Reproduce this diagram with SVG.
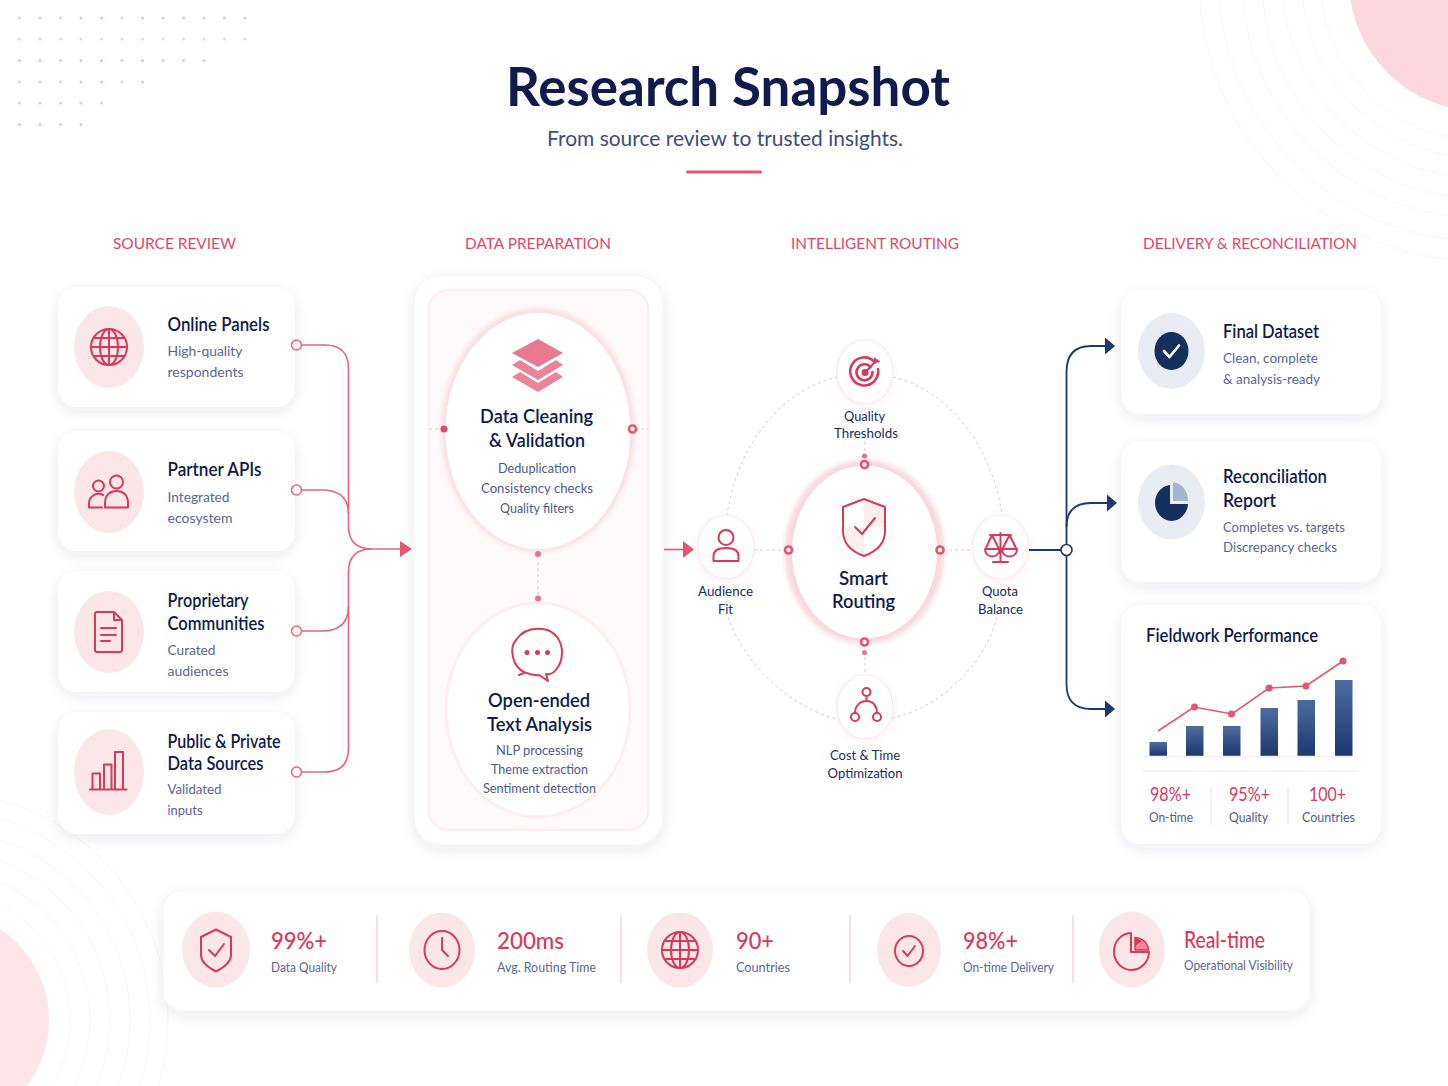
<svg xmlns="http://www.w3.org/2000/svg" width="1448" height="1086" viewBox="0 0 1448 1086">
<defs>
<style>
text{font-family:"Lato","Inter","Liberation Sans",sans-serif}
.h{font-size:14.500px;fill:#e0486a;text-anchor:middle;font-weight:400}
.t{font-size:18.500px;fill:#0f1b4c;font-weight:600}
.tm{font-size:19.500px;fill:#0f1b4c;font-weight:600;text-anchor:middle}
.s{font-size:14px;fill:#5a6690}
.sm{font-size:14px;fill:#4f5b87;text-anchor:middle}
.n{font-size:14px;fill:#1c2a5c;text-anchor:middle}
.v{font-size:23.500px;fill:#d8395c;font-weight:500}
.vs{font-size:18.500px;fill:#d8395c;text-anchor:middle}
.card{fill:#fff;filter:url(#sh)}
.tint{fill:#fbe6e8}
.ntint{fill:#e9ecf3}
.ic{fill:none;stroke:#d93a58;stroke-width:2;stroke-linecap:round;stroke-linejoin:round}
.pk{fill:none;stroke:#e5667f;stroke-width:1.6}
.nv{fill:none;stroke:#1b3a6f;stroke-width:1.8}
.dash{fill:none;stroke:#cfcfd4;stroke-width:1;stroke-dasharray:3 3}
.ring{fill:#fff;stroke:#e5566f;stroke-width:2.6}
.port{fill:#fff;stroke:#e5667f;stroke-width:1.5}
.orb{fill:#fff;stroke:#fbe8ea;stroke-width:1.2;filter:url(#sh2)}
.sep{stroke:#f6d5da;stroke-width:1.5}
.bar{fill:url(#bar)}
.dots{fill:none;stroke:#f1a3b5;stroke-width:3.200;stroke-linecap:round;stroke-dasharray:0 20.500;opacity:.65}
.arc{fill:none;stroke:#fef6f6;stroke-width:1.200}
</style>
<filter id="sh" x="-15%" y="-15%" width="130%" height="135%"><feDropShadow dx="0" dy="4" stdDeviation="7" flood-color="#3a3f5c" flood-opacity=".09"/></filter>
<filter id="sh2" x="-20%" y="-20%" width="140%" height="140%"><feDropShadow dx="0" dy="1" stdDeviation="3" flood-color="#e5566f" flood-opacity=".10"/></filter>
<filter id="bl" x="-20%" y="-20%" width="140%" height="140%"><feGaussianBlur stdDeviation="2.500"/></filter>
<filter id="bl2" x="-20%" y="-20%" width="140%" height="140%"><feGaussianBlur stdDeviation="2"/></filter>
<linearGradient id="bar" x1="0" y1="0" x2="0" y2="1"><stop offset="0" stop-color="#4d6c9e"/><stop offset="1" stop-color="#1b386f"/></linearGradient>
<g id="globe" class="ic"><circle r="18"/><ellipse rx="9" ry="18"/><path d="M0-18V18M-18 0H18M-15.500-9H15.500M-15.500 9H15.500"/></g>
</defs>
<rect width="1448" height="1086" fill="#fff"/>
<g id="background">
<circle class="arc" cx="1480" cy="-20" r="160"/><circle class="arc" cx="1480" cy="-20" r="178"/><circle class="arc" cx="1480" cy="-20" r="198"/><circle class="arc" cx="1480" cy="-20" r="218"/><circle class="arc" cx="1480" cy="-20" r="238"/><circle class="arc" cx="1480" cy="-20" r="261"/><circle class="arc" cx="1480" cy="-20" r="281"/>
<circle cx="1480" cy="-20" r="131" fill="#fbd8de"/>
<circle class="arc" cx="-60" cy="1020" r="130"/><circle class="arc" cx="-60" cy="1020" r="150"/><circle class="arc" cx="-60" cy="1020" r="170"/><circle class="arc" cx="-60" cy="1020" r="190"/><circle class="arc" cx="-60" cy="1020" r="210"/><circle class="arc" cx="-60" cy="1020" r="228"/>
<circle cx="-60" cy="1020" r="109" fill="#fde5e8"/>
<path class="dots" d="M19.500 18H250"/><path class="dots" d="M19.500 39H250" style="opacity:.5"/><path class="dots" d="M19.500 60.500H206"/><path class="dots" d="M19.500 82H145"/><path class="dots" d="M19.500 103H103"/><path class="dots" d="M19.500 124.500H82"/>
</g>
<g id="header">
<text x="728" y="106" text-anchor="middle" font-size="53" font-weight="700" fill="#0f1b4c" textLength="444" lengthAdjust="spacingAndGlyphs">Research Snapshot</text>
<text x="725" y="146" text-anchor="middle" font-size="22" fill="#3f4d78" textLength="356" lengthAdjust="spacingAndGlyphs">From source review to trusted insights.</text>
<rect x="686" y="170.500" width="76" height="3" rx="1.500" fill="#e5566f"/>
<text class="h" x="174.500" y="249" textLength="123" lengthAdjust="spacingAndGlyphs">SOURCE REVIEW</text>
<text class="h" x="538" y="249" textLength="146" lengthAdjust="spacingAndGlyphs">DATA PREPARATION</text>
<text class="h" x="875" y="249" textLength="168" lengthAdjust="spacingAndGlyphs">INTELLIGENT ROUTING</text>
<text class="h" x="1250" y="249" textLength="214" lengthAdjust="spacingAndGlyphs">DELIVERY &amp; RECONCILIATION</text>
</g>
<g id="source-online-panels">
<rect class="card" x="58" y="287" width="237" height="120" rx="20"/>
<ellipse class="tint" cx="109" cy="347" rx="35" ry="41"/>
<use href="#globe" x="109" y="347"/>
<text class="t" x="167.500" y="331" textLength="102" lengthAdjust="spacingAndGlyphs">Online Panels</text>
<text class="s" x="167.500" y="356" textLength="75" lengthAdjust="spacingAndGlyphs">High-quality</text>
<text class="s" x="167.500" y="377" textLength="76" lengthAdjust="spacingAndGlyphs">respondents</text>
</g>
<g id="source-partner-apis">
<rect class="card" x="58" y="431" width="237" height="120" rx="20"/>
<ellipse class="tint" cx="109" cy="492" rx="35" ry="41"/>
<g class="ic"><circle cx="98.500" cy="486" r="5.500"/><circle cx="116.500" cy="482" r="6.500"/><path d="M89 507.500V503a9.500 9.500 0 0 1 14-8M89 507.500H102M105 507.500V503C105 495 110 491 116.500 491S128 495 128 503V507.500Z"/></g>
<text class="t" x="167.500" y="476" textLength="94" lengthAdjust="spacingAndGlyphs">Partner APIs</text>
<text class="s" x="167.500" y="502" textLength="62" lengthAdjust="spacingAndGlyphs">Integrated</text>
<text class="s" x="167.500" y="523" textLength="65" lengthAdjust="spacingAndGlyphs">ecosystem</text>
</g>
<g id="source-proprietary-communities">
<rect class="card" x="58" y="571" width="237" height="121" rx="20"/>
<ellipse class="tint" cx="109" cy="632" rx="35" ry="41"/>
<g class="ic"><path d="M97 612H114L122 620V650Q122 652 120 652H97Q95 652 95 650V614Q95 612 97 612ZM114 612V620H122M101 628H116M101 635H116M101 641H110"/></g>
<text class="t" x="167.500" y="607" textLength="81" lengthAdjust="spacingAndGlyphs">Proprietary</text>
<text class="t" x="167.500" y="630" textLength="97" lengthAdjust="spacingAndGlyphs">Communities</text>
<text class="s" x="167.500" y="655" textLength="48" lengthAdjust="spacingAndGlyphs">Curated</text>
<text class="s" x="167.500" y="676" textLength="61" lengthAdjust="spacingAndGlyphs">audiences</text>
</g>
<g id="source-public-private">
<rect class="card" x="58" y="712" width="237" height="122" rx="20"/>
<ellipse class="tint" cx="109" cy="772" rx="35" ry="43"/>
<g class="ic"><path d="M90 789.500H126.500M92.500 789V773.500H100V789M104 789V764.500H111.500V789M115 789V752H123V789"/></g>
<text class="t" x="167.500" y="748" textLength="113" lengthAdjust="spacingAndGlyphs">Public &amp; Private</text>
<text class="t" x="167.500" y="770" textLength="96" lengthAdjust="spacingAndGlyphs">Data Sources</text>
<text class="s" x="167.500" y="794" textLength="54" lengthAdjust="spacingAndGlyphs">Validated</text>
<text class="s" x="167.500" y="815" textLength="35" lengthAdjust="spacingAndGlyphs">inputs</text>
</g>
<g id="data-prep-panel">
<rect x="414" y="275" width="249" height="570" rx="28" fill="#fff" stroke="#fbf0f2" filter="url(#sh)"/>
<rect x="428.500" y="290" width="220" height="540" rx="20" fill="#fef9fa" stroke="#fdeef0" stroke-width="2.500"/>
</g>
<g id="data-cleaning">
<ellipse cx="538" cy="430" rx="97" ry="122" fill="#fadfe3" filter="url(#bl2)"/>
<ellipse cx="538" cy="431" rx="92.500" ry="118" fill="#fff"/>
<path d="M512 353L538 339L563 353L538 367Z" fill="#e8798f"/>
<path d="M512 365L520 360L538 371L556 360L563 365L538 380Z" fill="#ea8499"/>
<path d="M512 377L520 372L538 383L556 372L563 377L538 392Z" fill="#ea8499"/>
<text class="tm" x="536.500" y="423" textLength="113" lengthAdjust="spacingAndGlyphs">Data Cleaning</text>
<text class="tm" x="537" y="447" textLength="96" lengthAdjust="spacingAndGlyphs">&amp; Validation</text>
<text class="sm" x="537" y="473" textLength="78" lengthAdjust="spacingAndGlyphs">Deduplication</text>
<text class="sm" x="537" y="493" textLength="112" lengthAdjust="spacingAndGlyphs">Consistency checks</text>
<text class="sm" x="537" y="513" textLength="74" lengthAdjust="spacingAndGlyphs">Quality filters</text>
</g>
<g id="text-analysis">
<ellipse cx="538" cy="710" rx="92" ry="107" fill="#fff" stroke="#fdeef0" stroke-width="3"/>
<g class="ic"><path d="M525 672.500C512 667 509 648 516 640C523 629 535 628 543 629C556 631 562 642 562 652C562 666 553 676 546 674L548 681L539 675C534 676 529 674 525 672.500L519 675Z"/></g>
<circle cx="527" cy="652.500" r="2.500" fill="#d93a58"/><circle cx="537.500" cy="652.500" r="2.500" fill="#d93a58"/><circle cx="547.500" cy="652.500" r="2.500" fill="#d93a58"/>
<text class="tm" x="539" y="707" textLength="102" lengthAdjust="spacingAndGlyphs">Open-ended</text>
<text class="tm" x="539.500" y="731" textLength="105" lengthAdjust="spacingAndGlyphs">Text Analysis</text>
<text class="sm" x="539.500" y="755" textLength="87" lengthAdjust="spacingAndGlyphs">NLP processing</text>
<text class="sm" x="539.500" y="774" textLength="97" lengthAdjust="spacingAndGlyphs">Theme extraction</text>
<text class="sm" x="539.500" y="793" textLength="113" lengthAdjust="spacingAndGlyphs">Sentiment detection</text>
</g>
<g id="connectors">
<path class="pk" d="M302 345H325Q348.500 345 348.500 369V526Q348.500 549 372 549H402"/>
<path class="pk" d="M302 490H322Q348.500 490 348.500 514"/>
<path class="pk" d="M302 631H322Q348.500 631 348.500 606"/>
<path class="pk" d="M302 772H325Q348.500 772 348.500 748V572Q348.500 549 372 549"/>
<path d="M400 541L412 549L400 557Z" fill="#e5566f"/>
<circle class="port" cx="296.500" cy="345" r="5"/><circle class="port" cx="296.500" cy="490" r="5"/><circle class="port" cx="296.500" cy="631" r="5"/><circle class="port" cx="296.500" cy="772" r="5"/>
<path class="dash" d="M429 429H442M635 429H648M538 556V596"/>
<circle cx="444" cy="429" r="3.500" fill="#de4a69"/><circle class="ring" cx="632.500" cy="429" r="3.500"/>
<circle cx="538" cy="554" r="3" fill="#e8708a"/><circle cx="538" cy="598.500" r="3" fill="#e8708a"/>
<path d="M664 549.500H684" stroke="#e5566f" stroke-width="1.600" fill="none"/><path d="M683 541L694 549.500L683 558Z" fill="#e5566f"/>
<path class="dash" d="M838 377A137 172 0 0 0 727 515M893 377A137 172 0 0 1 1002 515M728 617C745 665 790 708 840 720M997 617C985 665 940 708 892 718M754 550H786M943 550H972M865 442V458M865 651V676"/>
<path class="nv" d="M1029 550H1062"/>
<path class="nv" d="M1105 346H1091Q1066.500 346 1066.500 372V684Q1066.500 709 1091 709H1106"/>
<path class="nv" d="M1107 503H1091Q1066.500 503 1066.500 527"/>
<path d="M1105 337.500L1115 346L1105 354.500Z" fill="#1b3a6f"/><path d="M1107 494.500L1117 503L1107 511.500Z" fill="#1b3a6f"/><path d="M1105 700.500L1115 709L1105 717.500Z" fill="#1b3a6f"/>
<circle cx="1066.500" cy="550" r="5.500" fill="#fff" stroke="#1b3a6f" stroke-width="1.600"/>
</g>
<g id="smart-routing">
<ellipse cx="864.500" cy="552" rx="80" ry="92" fill="#f9d8dd" filter="url(#bl)"/>
<ellipse cx="864.500" cy="552" rx="72.500" ry="86.500" fill="#fff"/>
<path d="M864 501V527H884V507ZM864 527V554C853 550 845 542 845 531V527Z" fill="#fdeef0"/>
<path class="ic" d="M864 499L885 507V531C885 544 875 552 864 556C853 552 843 544 843 531V507Z"/>
<path class="ic" d="M855 527L862 534L875 518"/>
<text class="tm" x="863.500" y="585" textLength="49" lengthAdjust="spacingAndGlyphs">Smart</text>
<text class="tm" x="863.500" y="607.500" textLength="63" lengthAdjust="spacingAndGlyphs">Routing</text>
<circle class="ring" cx="864.500" cy="464.500" r="3.500"/><circle class="ring" cx="864.500" cy="642" r="3.500"/><circle class="ring" cx="788.500" cy="550" r="3.500"/><circle class="ring" cx="940" cy="550" r="3.500"/>
<circle cx="864.500" cy="456" r="2.500" fill="#e8708a"/><circle cx="864.500" cy="652.500" r="2.500" fill="#e8708a"/>
</g>
<g id="quality-thresholds">
<ellipse class="orb" cx="865" cy="372" rx="28" ry="32"/>
<g class="ic"><path d="M875 362.500A14 14 0 1 0 878 369" style="stroke-width:2.600"/><path d="M870.500 367A8 8 0 1 0 872.500 372" style="stroke-width:2.600"/><circle cx="865" cy="372.500" r="2.500" fill="#d93a58"/><path d="M865 372.500L877 360M875 358.500V361.500H879"/></g>
<text class="n" x="864.500" y="421" textLength="41" lengthAdjust="spacingAndGlyphs">Quality</text>
<text class="n" x="866" y="438" textLength="64" lengthAdjust="spacingAndGlyphs">Thresholds</text>
</g>
<g id="audience-fit">
<ellipse class="orb" cx="726" cy="547" rx="28" ry="32"/>
<g class="ic"><circle cx="726" cy="537.500" r="7.500"/><path d="M713.500 561V556C713.500 551 718 548 726 548S738.500 551 738.500 556V561Z"/></g>
<text class="n" x="725.500" y="596" textLength="55" lengthAdjust="spacingAndGlyphs">Audience</text>
<text class="n" x="725.500" y="614" textLength="15" lengthAdjust="spacingAndGlyphs">Fit</text>
</g>
<g id="quota-balance">
<ellipse class="orb" cx="1000.500" cy="547" rx="28" ry="32"/>
<g class="ic"><path d="M1000.500 533V562M993 562H1008M990 535H1011M992 535L985.500 549M992 535L999 549M1009.500 535L1002.500 549M1009.500 535L1016.500 549M985 549H999.500C999.500 559 985 559 985 549ZM1002 549H1017C1017 559 1002 559 1002 549Z"/></g>
<text class="n" x="1000" y="596" textLength="36" lengthAdjust="spacingAndGlyphs">Quota</text>
<text class="n" x="1000.500" y="614" textLength="45" lengthAdjust="spacingAndGlyphs">Balance</text>
</g>
<g id="cost-time">
<ellipse class="orb" cx="865" cy="707" rx="28" ry="32"/>
<g class="ic"><circle cx="866.500" cy="692" r="4"/><circle cx="855" cy="717" r="4"/><circle cx="877" cy="717" r="4"/><path d="M866.500 696V701M855 713C855 706 860 701 866.500 701S877 706 877 713"/></g>
<text class="n" x="865" y="760" textLength="70" lengthAdjust="spacingAndGlyphs">Cost &amp; Time</text>
<text class="n" x="865" y="778" textLength="75" lengthAdjust="spacingAndGlyphs">Optimization</text>
</g>
<g id="final-dataset">
<rect class="card" x="1121" y="290" width="260" height="124" rx="20"/>
<ellipse class="ntint" cx="1171.500" cy="351" rx="33.500" ry="38"/>
<ellipse cx="1171.500" cy="351" rx="17" ry="19" fill="#14305f"/>
<path d="M1164 351L1169.500 357L1179 345.500" fill="none" stroke="#fff" stroke-width="2.600" stroke-linecap="round" stroke-linejoin="round"/>
<text class="t" x="1223" y="338" textLength="96" lengthAdjust="spacingAndGlyphs">Final Dataset</text>
<text class="s" x="1223" y="363" textLength="95" lengthAdjust="spacingAndGlyphs">Clean, complete</text>
<text class="s" x="1223" y="384" textLength="97" lengthAdjust="spacingAndGlyphs">&amp; analysis-ready</text>
</g>
<g id="reconciliation-report">
<rect class="card" x="1121" y="441" width="260" height="141" rx="20"/>
<ellipse class="ntint" cx="1171.500" cy="502" rx="33.500" ry="37.500"/>
<path d="M1170 485A16.500 18 0 1 0 1188 504H1170Z" fill="#14305f"/>
<path d="M1173 482.500C1181 482.500 1188 490 1188 501H1173Z" fill="#a5b4cf"/>
<text class="t" x="1223" y="483" textLength="104" lengthAdjust="spacingAndGlyphs">Reconciliation</text>
<text class="t" x="1223" y="507" textLength="53" lengthAdjust="spacingAndGlyphs">Report</text>
<text class="s" x="1223" y="532" textLength="122" lengthAdjust="spacingAndGlyphs">Completes vs. targets</text>
<text class="s" x="1223" y="552" textLength="114" lengthAdjust="spacingAndGlyphs">Discrepancy checks</text>
</g>
<g id="fieldwork-performance">
<rect class="card" x="1121" y="605" width="260" height="239" rx="20"/>
<text class="t" x="1146" y="642" textLength="172" lengthAdjust="spacingAndGlyphs">Fieldwork Performance</text>
<rect class="bar" x="1149.500" y="742" width="17.500" height="14"/>
<rect class="bar" x="1186" y="726" width="17.500" height="30"/>
<rect class="bar" x="1223" y="726" width="17.500" height="30"/>
<rect class="bar" x="1260.500" y="708" width="17.500" height="48"/>
<rect class="bar" x="1297.500" y="700" width="17.500" height="56"/>
<rect class="bar" x="1335" y="680" width="17.500" height="76"/>
<path d="M1144 756.500H1356M1142 771H1358" stroke="#f1f1f4" stroke-width="1.500" fill="none"/>
<path d="M1158 731L1194 707L1232 714L1269 688L1306 686L1343 661" fill="none" stroke="#e5566f" stroke-width="1.600"/>
<g fill="#e5566f"><circle cx="1194.500" cy="707" r="3.500"/><circle cx="1231.500" cy="714" r="3.500"/><circle cx="1269" cy="688" r="3.500"/><circle cx="1306" cy="686" r="3.500"/><circle cx="1343" cy="661" r="3.500"/></g>
<path d="M1211 787V825M1288 787V825" stroke="#eeeef2" stroke-width="1.500"/>
<text class="vs" x="1170.500" y="801" textLength="41" lengthAdjust="spacingAndGlyphs">98%+</text>
<text class="vs" x="1249.500" y="801" textLength="41" lengthAdjust="spacingAndGlyphs">95%+</text>
<text class="vs" x="1327.500" y="801" textLength="37" lengthAdjust="spacingAndGlyphs">100+</text>
<text class="sm" x="1171" y="822" textLength="44" lengthAdjust="spacingAndGlyphs">On-time</text>
<text class="sm" x="1248.500" y="822" textLength="39" lengthAdjust="spacingAndGlyphs">Quality</text>
<text class="sm" x="1328.500" y="822" textLength="53" lengthAdjust="spacingAndGlyphs">Countries</text>
</g>
<g id="metrics-bar">
<rect class="card" x="163" y="890" width="1147" height="121" rx="20" stroke="#fdf0f2"/>
<path class="sep" d="M377 915V983M621 915V983M850 915V983M1073 915V983"/>
</g>
<g id="metric-quality">
<ellipse class="tint" cx="216" cy="949.500" rx="34" ry="38"/>
<path class="ic" d="M216 929.500L231 937V955C231 963 223 968 216 971.500C209 968 201 963 201 955V937Z"/>
<path class="ic" d="M209 950L215 956L224 944"/>
<text class="v" x="271" y="949" textLength="56" lengthAdjust="spacingAndGlyphs">99%+</text>
<text class="s" x="271" y="972" textLength="66" lengthAdjust="spacingAndGlyphs">Data Quality</text>
</g>
<g id="metric-routing-time">
<ellipse class="tint" cx="442" cy="950" rx="33" ry="37.500"/>
<g class="ic"><ellipse cx="442" cy="950" rx="17.500" ry="19"/><path d="M442 938V950L448 956"/></g>
<text class="v" x="497" y="949" textLength="67" lengthAdjust="spacingAndGlyphs">200ms</text>
<text class="s" x="497" y="972" textLength="99" lengthAdjust="spacingAndGlyphs">Avg. Routing Time</text>
</g>
<g id="metric-countries">
<ellipse class="tint" cx="680" cy="950" rx="33" ry="37.500"/>
<use href="#globe" x="680" y="950"/>
<text class="v" x="736" y="949" textLength="38" lengthAdjust="spacingAndGlyphs">90+</text>
<text class="s" x="736" y="972" textLength="54" lengthAdjust="spacingAndGlyphs">Countries</text>
</g>
<g id="metric-delivery">
<ellipse class="tint" cx="909" cy="950" rx="32" ry="37"/>
<g class="ic"><ellipse cx="909" cy="951" rx="14" ry="15"/><path d="M903 951L907.500 956L915 946"/></g>
<text class="v" x="963" y="949" textLength="55" lengthAdjust="spacingAndGlyphs">98%+</text>
<text class="s" x="963" y="972" textLength="91" lengthAdjust="spacingAndGlyphs">On-time Delivery</text>
</g>
<g id="metric-visibility">
<ellipse class="tint" cx="1132" cy="949.500" rx="33" ry="38"/>
<path class="ic" d="M1131 933A17.500 18.500 0 1 0 1149 952H1131Z"/>
<path d="M1135 937.500L1135 950H1148.500C1148 943 1143 938 1135 937.500Z" fill="#ef8799" stroke="#d93a58" stroke-width="1.500"/>
<path d="M1135 937.500V946L1142 941Z" fill="#d93a58"/>
<text class="v" x="1184" y="948" textLength="81" lengthAdjust="spacingAndGlyphs">Real-time</text>
<text class="s" x="1184" y="970" textLength="109" lengthAdjust="spacingAndGlyphs">Operational Visibility</text>
</g>
</svg>
